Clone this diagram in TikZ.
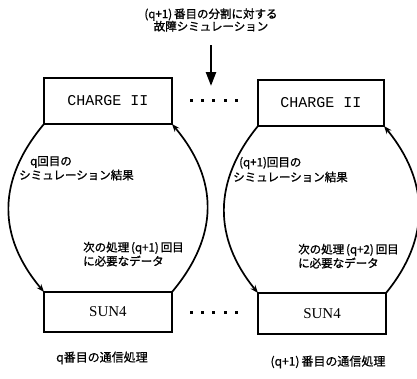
\documentclass[tikz,border=0pt]{standalone}
\usepackage{fontspec}
\usetikzlibrary{arrows.meta}
\newfontfamily\jp[FakeBold=1.2]{Noto Sans CJK JP}
\newfontfamily\jpm[FakeBold=0.6]{Noto Sans CJK JP}
\newfontfamily\monoL{Liberation Mono}
\newfontfamily\serifL{Liberation Serif}
\begin{document}
\begin{tikzpicture}[x=1pt,y=-1pt,
  box/.style={draw,line width=1.6pt,inner sep=0pt,outer sep=0pt},
  loop/.style={line width=1.7pt,-{Stealth[length=8pt,width=6pt]}},
  jlab/.style={inner sep=0pt,anchor=west,font=\jp\fontsize{11.5}{13}\selectfont},
  blab/.style={inner sep=0pt,font=\jpm\fontsize{12}{14}\selectfont},
  dotstyle/.style={fill=black}
]
\useasboundingbox[fill=white] (0,0) rectangle (417,378);

% title
\node[inner sep=0pt,align=center,font=\jp\fontsize{11.5}{13.5}\selectfont] (title) at (211,20)
  {(q+1)\,番目の分割に対する\\[-1pt]故障シミュレーション};
\coordinate (arrtop) at (211,45);
\coordinate (arrtip) at (211,86);
\draw[line width=2.4pt,-{Triangle[length=14pt,width=10pt]}] (arrtop) -- (arrtip);

% boxes
\node[box,minimum width=128pt,minimum height=46pt,font=\monoL\fontsize{15}{15}\selectfont] (c1) at (108,101) {CHARGE II};
\node[box,minimum width=126pt,minimum height=46pt,font=\monoL\fontsize{15}{15}\selectfont] (c2) at (321,103) {CHARGE II};
\node[box,minimum width=128pt,minimum height=40pt,font=\serifL\fontsize{15}{15}\selectfont] (s1) at (108,312) {SUN4};
\node[box,minimum width=128pt,minimum height=41pt,font=\serifL\fontsize{15}{15}\selectfont] (s2) at (322,313.5) {SUN4};

% dots
\foreach \i in {0,...,4} {
  \fill[dotstyle] (191.5+11.2*\i-1.5,99) rectangle +(3,3);
  \fill[dotstyle] (191.5+11.2*\i-1.5,311) rectangle +(3,3);
}

% loops
\draw[loop] (c1.south west) .. controls +(-47,56) and +(-47,-56) .. (s1.north west);
\draw[loop] (s1.north east) .. controls +(47,-56) and +(47,56) .. (c1.south east);
\draw[loop] (c2.south west) .. controls +(-45,55) and +(-45,-55) .. (s2.north west);
\draw[loop] (s2.north east) .. controls +(45,-55) and +(45,55) .. (c2.south east);

% loop labels
\node[jlab] (l1a) at (30,162) {q回目の};
\node[jlab] (l1b) at (19,175) {シミュレーション結果};
\node[jlab] (l2a) at (239,163) {(q+1)回目の};
\node[jlab] (l2b) at (233,177) {シミュレーション結果};
\node[jlab] (l3a) at (83,248) {次の処理\,(q+1)\,回目};
\node[jlab] (l3b) at (83,261) {に必要なデータ};
\node[jlab] (l4a) at (298,250) {次の処理\,(q+2)\,回目};
\node[jlab] (l4b) at (298,263) {に必要なデータ};

% bottom labels
\node[blab] (b1) at (102,358) {q番目の通信処理};
\node[blab] (b2) at (328,362) {(q+1)\,番目の通信処理};
\end{tikzpicture}
\end{document}
